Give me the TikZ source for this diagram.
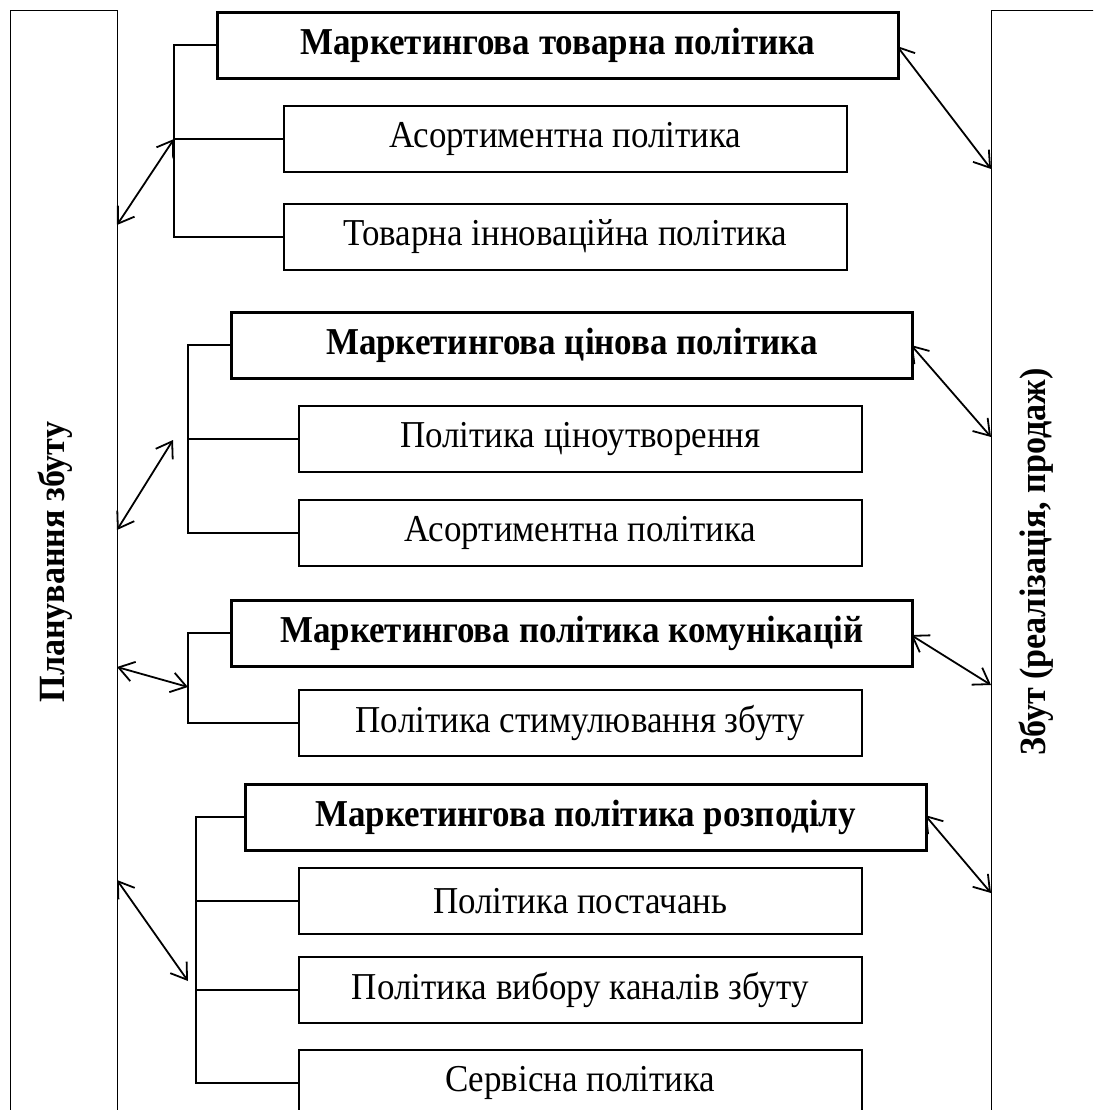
\documentclass[tikz,border=0pt]{standalone}
\usepackage{fontspec}
\setmainfont{Liberation Serif}[FakeStretch=0.92]
\usetikzlibrary{arrows.meta}
\begin{document}
\begin{tikzpicture}[x=1pt,y=-1pt,
  hdr/.style={draw, line width=2.6pt, minimum width=681pt, minimum height=66pt,
              anchor=north west, inner sep=0pt, font=\fontsize{38}{42}\selectfont\bfseries},
  sub/.style={draw, line width=1.6pt, minimum width=563pt, minimum height=66pt,
              anchor=north west, inner sep=0pt, font=\fontsize{38}{42}\selectfont},
  col/.style={draw, line width=1.4pt, anchor=north west, minimum height=1140pt, inner sep=0pt},
  vlabel/.style={rotate=90, inner sep=0pt, font=\fontsize{37}{42}\selectfont\bfseries},
  br/.style={line width=2.2pt},
  arr/.style={line width=1.8pt,
              {Straight Barb[length=15pt,width=20pt]}-{Straight Barb[length=15pt,width=20pt]}}
]
\useasboundingbox (0,0) rectangle (1093,1110);
\clip (0,0) rectangle (1093,1110);

% side columns
\node[col, minimum width=107pt] (L) at (10,10) {};
\node[col, minimum width=140pt] (R) at (991,10) {};
\node[vlabel] (Lt) at (55,562) {Планування збуту};
\node[vlabel] (Rt) at (1036,562) {Збут (реалізація, продаж)};

% group 1
\node[hdr] (h1) at (216,11) {Маркетингова товарна політика};
\node[sub] (s11) at (283,105) {Асортиментна політика};
\node[sub] (s12) at (283,203) {Товарна інноваційна політика};
\coordinate (b1) at (174,0);
\draw[br] (h1.west) -- (h1.west -| b1) |- (s12.west);
\draw[br] (s11.west) -- (s11.west -| b1);

% group 2
\node[hdr] (h2) at (230,311) {Маркетингова цінова політика};
\node[sub] (s21) at (298,405) {Політика ціноутворення};
\node[sub] (s22) at (298,499) {Асортиментна політика};
\coordinate (b2) at (188,0);
\draw[br] (h2.west) -- (h2.west -| b2) |- (s22.west);
\draw[br] (s21.west) -- (s21.west -| b2);

% group 3
\node[hdr] (h3) at (230,599) {Маркетингова політика комунікацій};
\node[sub] (s31) at (298,689) {Політика стимулювання збуту};
\coordinate (b3) at (188,0);
\draw[br] (h3.west) -- (h3.west -| b3) |- (s31.west);

% group 4
\node[hdr] (h4) at (244,783) {Маркетингова політика розподілу};
\node[sub] (s41) at (298,867) {Політика постачань};
\node[sub] (s42) at (298,956) {Політика вибору каналів збуту};
\node[sub] (s43) at (298,1049) {Сервісна політика};
\coordinate (b4) at (196,0);
\draw[br] (h4.west) -- (h4.west -| b4) |- (s43.west);
\draw[br] (s41.west) -- (s41.west -| b4);
\draw[br] (s42.west) -- (s42.west -| b4);

% arrow ends
\coordinate (la1) at (117,225);  \coordinate (lb1) at (174,139);
\coordinate (la2) at (117,530);  \coordinate (lb2) at (173,440);
\coordinate (la3) at (117,667);  \coordinate (lb3) at (188,687);
\coordinate (la4) at (117,880);  \coordinate (lb4) at (188,981);
\coordinate (ra1) at (897,46);   \coordinate (rb1) at (991,169);
\coordinate (ra2) at (911,345);  \coordinate (rb2) at (991,437);
\coordinate (ra3) at (911,635);  \coordinate (rb3) at (991,685);
\coordinate (ra4) at (925,815);  \coordinate (rb4) at (991,893);

\foreach \i in {1,2,3,4} {
  \draw[arr] (la\i) -- (lb\i);
  \draw[arr] (ra\i) -- (rb\i);
}
\end{tikzpicture}
\end{document}
